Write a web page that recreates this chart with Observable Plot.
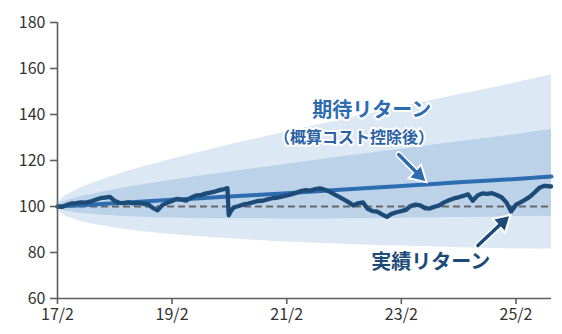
<!DOCTYPE html>
<html><head><meta charset="utf-8">
<script src="https://cdn.jsdelivr.net/npm/d3@7"></script>
<script src="https://cdn.jsdelivr.net/npm/@observablehq/plot@0.6"></script>
<style>body{margin:0;background:#fff}#chart{width:562px;height:334px}</style>
</head><body><div id="chart"></div>
<script>
// Actual (realized) return index
const actualDates = [
"2017-02-01","2017-03-01","2017-04-01","2017-05-01","2017-06-01","2017-07-01","2017-08-01","2017-09-01","2017-10-01","2017-11-01","2017-12-01",
"2018-01-01","2018-02-01","2018-03-01","2018-04-01","2018-05-01","2018-06-01","2018-07-01","2018-08-01","2018-09-01","2018-10-01","2018-11-01","2018-12-01",
"2019-01-01","2019-02-01","2019-03-01","2019-04-01","2019-05-01","2019-06-01","2019-07-01","2019-08-01","2019-09-01","2019-10-01","2019-11-01","2019-12-01",
"2020-01-01","2020-01-20","2020-01-28","2020-02-15","2020-03-01","2020-04-01","2020-05-01","2020-06-01","2020-07-01","2020-08-01","2020-09-01","2020-10-01","2020-11-01","2020-12-01",
"2021-01-01","2021-02-01","2021-03-01","2021-04-01","2021-05-01","2021-06-01","2021-07-01","2021-08-01","2021-09-01","2021-10-01","2021-11-01","2021-12-01",
"2022-01-01","2022-02-01","2022-03-01","2022-04-01","2022-05-01","2022-06-01","2022-07-01","2022-08-01","2022-09-01","2022-10-01","2022-11-01","2022-12-01",
"2023-01-01","2023-02-01","2023-03-01","2023-04-01","2023-05-01","2023-06-01","2023-07-01","2023-08-01","2023-09-01","2023-10-01","2023-11-01","2023-12-01",
"2024-01-01","2024-02-01","2024-03-01","2024-04-01","2024-05-01","2024-06-01","2024-07-01","2024-08-01","2024-09-01","2024-10-01","2024-11-01","2024-12-01",
"2025-01-01","2025-02-01","2025-03-01","2025-04-01","2025-05-01","2025-06-01","2025-07-01","2025-08-01","2025-09-01","2025-09-12"];
const actualValues = [
100.0,99.8,100.7,101.3,101.5,101.8,101.7,102.2,102.9,103.6,103.9,
104.2,102.4,101.6,101.5,101.8,101.4,101.6,101.2,101.0,99.4,98.3,100.6,
101.6,102.4,103.3,103.0,102.6,103.8,104.7,104.9,105.6,106.0,106.5,107.1,
107.6,108.0,96.2,98.5,99.6,100.2,100.9,101.3,101.8,102.4,102.5,103.1,103.6,103.8,
104.3,104.8,105.3,105.9,106.7,107.1,106.9,107.6,107.9,107.3,106.5,105.3,
104.2,103.0,101.9,100.5,101.4,101.8,99.0,98.0,97.8,96.6,95.5,96.8,
97.5,98.0,98.5,100.2,100.8,100.5,99.3,99.1,99.9,100.5,101.8,102.7,
103.5,104.0,104.6,105.3,102.5,104.8,105.7,105.5,105.8,105.0,104.0,101.8,
97.8,100.8,101.8,103.0,104.3,106.2,108.2,109.0,108.8,108.7];

// Expected return and ranges
const bandDates = ["2017-02-01","2017-02-08","2017-03-01","2017-05-01","2017-08-01","2018-02-01","2019-02-01","2020-02-01","2021-02-01","2022-02-01","2023-02-01","2024-02-01","2025-02-01","2025-09-15"];
const outerHigh = [100,101.6,103.4,106.1,109.0,113.5,120.5,126.7,132.4,137.9,143.3,148.6,153.8,157.3];
const innerHigh = [100,100.8,101.7,103.2,104.8,107.3,111.4,115.0,118.4,121.7,124.9,128.1,131.3,133.5];
const expected  = [100,100.0,100.1,100.4,100.7,101.4,102.9,104.4,105.8,107.4,108.9,110.5,112.0,113.0];
const innerLow  = [100,99.2,98.5,97.6,96.8,95.9,95.0,94.7,94.6,94.7,94.9,95.2,95.6,95.8];
const outerLow  = [100,98.4,96.9,94.9,93.0,90.7,87.8,86.0,84.6,83.6,82.8,82.1,81.6,81.5];

const xDomain = ["2017-02-01","2025-09-15"];
const xTicks = ["2017-02-01","2019-02-01","2021-02-01","2023-02-01","2025-02-01"];
const yTicks = [60,80,100,120,140,160,180];
const baseline = [100];

// Annotations
const noteLabels = ["期待リターン","（概算コスト控除後）","実績リターン"];
const noteDates  = ["2022-07-27","2022-04-06","2023-08-07"];
const noteValues = [141.7,129.8,75.7];
const arrowFromDates = ["2023-01-15","2024-06-03"];
const arrowFromValues = [122.6,83.0];
const arrowToDates = ["2023-06-24","2024-12-10"];
const arrowToValues = [111.7,95.2];

const parse = d3.utcParse("%Y-%m-%d");
const actual = actualDates.map((d,i)=>({date:parse(d), value:actualValues[i]}));
const bands = bandDates.map((d,i)=>({date:parse(d), oh:outerHigh[i], ih:innerHigh[i], ex:expected[i], il:innerLow[i], ol:outerLow[i]}));
const notes = noteLabels.map((t,i)=>({text:t, date:parse(noteDates[i]), value:noteValues[i]}));
const arrows = arrowFromDates.map((d,i)=>({x1:parse(d), y1:arrowFromValues[i], x2:parse(arrowToDates[i]), y2:arrowToValues[i]}));

const C_OUT="#dce8f4", C_IN="#bcd2e8", C_EXP="#2e6cb0", C_ACT="#1d4b78";
const FONT="'Noto Sans CJK JP','Noto Sans',sans-serif";

function arrowMarks(a, color, rot, dx, dy){
  return [
    Plot.arrow([a],{x1:"x1",y1:"y1",x2:"x2",y2:"y2",stroke:"white",strokeWidth:6.5,headLength:0,insetEnd:6}),
    Plot.dot([a],{x:"x2",y:"y2",symbol:"triangle",r:6.2,fill:"white",stroke:"white",strokeWidth:3,rotate:rot,dx,dy}),
    Plot.arrow([a],{x1:"x1",y1:"y1",x2:"x2",y2:"y2",stroke:color,strokeWidth:3.5,headLength:0,insetEnd:7}),
    Plot.dot([a],{x:"x2",y:"y2",symbol:"triangle",r:5.6,fill:color,rotate:rot,dx,dy})
  ];
}

const chart = Plot.plot({
  width:562, height:334,
  marginTop:22, marginRight:11, marginBottom:36, marginLeft:57,
  style:{fontFamily:FONT, fontSize:"16px", color:"#333", background:"#fff"},
  x:{type:"utc", domain:xDomain.map(parse)},
  y:{domain:[60,180]},
  marks:[
    Plot.areaY(bands,{x:"date",y1:"ol",y2:"oh",fill:C_OUT,curve:"monotone-x"}),
    Plot.areaY(bands,{x:"date",y1:"il",y2:"ih",fill:C_IN,curve:"monotone-x"}),
    Plot.ruleY(baseline,{stroke:"#666",strokeWidth:2,strokeDasharray:"7,4"}),
    Plot.line(bands,{x:"date",y:"ex",stroke:C_EXP,strokeWidth:4,curve:"monotone-x"}),
    Plot.line(actual,{x:"date",y:"value",stroke:C_ACT,strokeWidth:4.3,strokeLinejoin:"round",strokeLinecap:"round"}),
    Plot.ruleX([parse(xDomain[0])],{stroke:"#5f5f5f",strokeWidth:1.6}),
    Plot.ruleY([60],{stroke:"#5f5f5f",strokeWidth:1.6}),
    Plot.axisY({ticks:yTicks,tickSize:7,tickPadding:5,label:null,fontSize:16,stroke:"#5f5f5f",strokeWidth:1.6,fill:"#333"}),
    Plot.axisX({ticks:xTicks.map(parse),tickSize:6,tickPadding:4,label:null,fontSize:16,stroke:"#5f5f5f",strokeWidth:1.6,fill:"#333",tickFormat:d3.utcFormat("%y/%-m")}),
    ...arrowMarks(arrows[0], C_EXP, 132.7, -5.0, -4.6),
    ...arrowMarks(arrows[1], C_ACT, 46.9, -5.0, 4.6),
    Plot.text([notes[0]],{x:"date",y:"value",text:"text",fill:C_EXP,fontSize:20,fontWeight:"bold",stroke:"white",strokeWidth:4,paintOrder:"stroke",strokeLinejoin:"round"}),
    Plot.text([notes[1]],{x:"date",y:"value",text:"text",fill:"#2a62a3",fontSize:16,fontWeight:"bold",stroke:"white",strokeWidth:4,paintOrder:"stroke",strokeLinejoin:"round"}),
    Plot.text([notes[2]],{x:"date",y:"value",text:"text",fill:C_ACT,fontSize:20,fontWeight:"bold",stroke:"white",strokeWidth:4,paintOrder:"stroke",strokeLinejoin:"round"})
  ]
});
document.getElementById("chart").appendChild(chart);
</script>
</body></html>
